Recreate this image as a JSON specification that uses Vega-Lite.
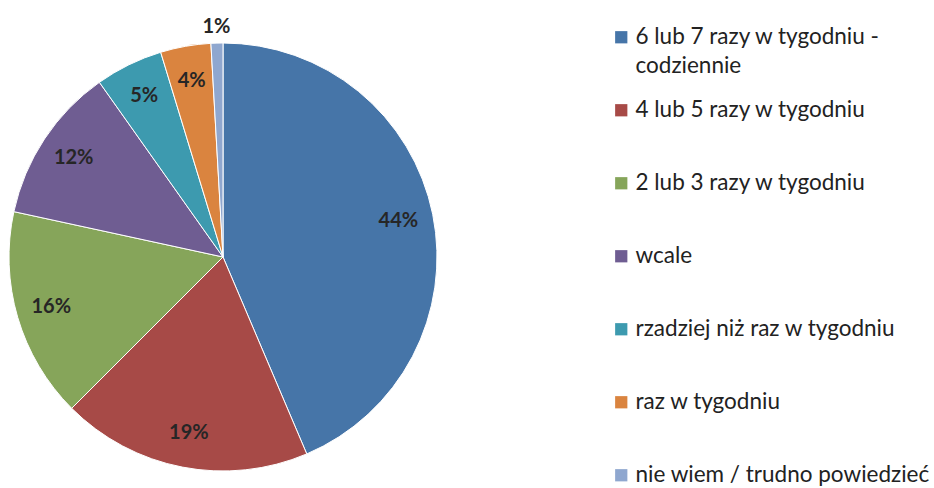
{
  "$schema": "https://vega.github.io/schema/vega-lite/v6.json",
  "width": 446,
  "height": 514,
  "autosize": {"type": "none"},
  "padding": {"left": 0, "top": 0, "right": 488, "bottom": 0},
  "background": "white",
  "config": {
    "view": {"stroke": null},
    "font": "Lato",
    "style": {"guide-label": {"dy": -11, "lineHeight": 29}}
  },
  "data": {
    "values": [
      {"idx": 1, "category": "6 lub 7 razy w tygodniu - codziennie", "share": 0.436},
      {"idx": 2, "category": "4 lub 5 razy w tygodniu", "share": 0.189},
      {"idx": 3, "category": "2 lub 3 razy w tygodniu", "share": 0.159},
      {"idx": 4, "category": "wcale", "share": 0.118},
      {"idx": 5, "category": "rzadziej niż raz w tygodniu", "share": 0.051},
      {"idx": 6, "category": "raz w tygodniu", "share": 0.038},
      {"idx": 7, "category": "nie wiem / trudno powiedzieć", "share": 0.009}
    ]
  },
  "encoding": {
    "theta": {"field": "share", "type": "quantitative", "stack": true},
    "order": {"field": "idx", "type": "quantitative"},
    "color": {
      "field": "category",
      "type": "nominal",
      "sort": ["6 lub 7 razy w tygodniu - codziennie", "4 lub 5 razy w tygodniu", "2 lub 3 razy w tygodniu", "wcale", "rzadziej niż raz w tygodniu", "raz w tygodniu", "nie wiem / trudno powiedzieć"],
      "scale": {
        "domain": ["6 lub 7 razy w tygodniu - codziennie", "4 lub 5 razy w tygodniu", "2 lub 3 razy w tygodniu", "wcale", "rzadziej niż raz w tygodniu", "raz w tygodniu", "nie wiem / trudno powiedzieć"],
        "range": ["#4675A8", "#A74A47", "#86A55A", "#6F5D92", "#3D9AAF", "#DA843F", "#8FA7CF"]
      },
      "legend": {
        "title": null,
        "orient": "none",
        "legendX": 610,
        "legendY": 26,
        "padding": 0,
        "symbolType": "square",
        "symbolSize": 150,
        "symbolStrokeWidth": 0,
        "labelFont": "Lato",
        "labelFontSize": 22.5,
        "labelColor": "#222222",
        "labelLimit": 400,
        "labelOffset": 3,
        "labelBaseline": "top",
        "gridAlign": "all",
        "rowPadding": 21,
        "labelExpr": "datum.label == '6 lub 7 razy w tygodniu - codziennie' ? ['6 lub 7 razy w tygodniu -', 'codziennie'] : datum.label"
      }
    }
  },
  "layer": [
    {
      "mark": {"type": "arc", "outerRadius": 214, "stroke": "white", "strokeWidth": 1}
    },
    {
      "mark": {"type": "text", "radius": 179, "font": "Lato", "fontWeight": "bold", "fontSize": 20},
      "encoding": {
        "text": {"condition": {"test": "datum.share < 0.02", "value": ""}, "field": "share", "type": "quantitative", "format": ".0%"},
        "color": {"value": "#262626"}
      }
    },
    {
      "mark": {"type": "text", "radius": 230, "font": "Lato", "fontWeight": "bold", "fontSize": 20},
      "encoding": {
        "text": {"condition": {"test": "datum.share >= 0.02", "value": ""}, "field": "share", "type": "quantitative", "format": ".0%"},
        "color": {"value": "#262626"}
      }
    }
  ]
}
